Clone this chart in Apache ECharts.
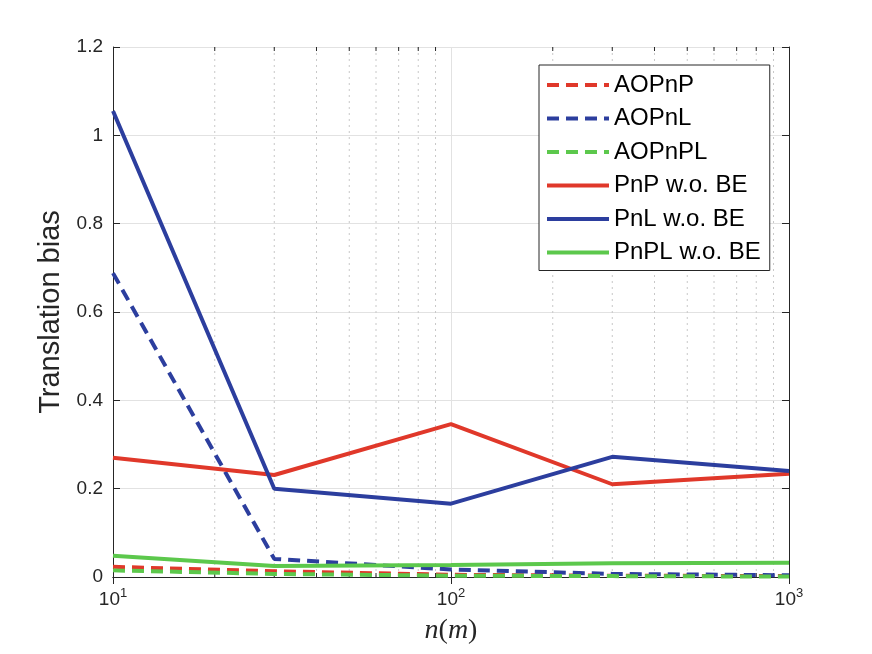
<!DOCTYPE html>
<html>
<head>
<meta charset="utf-8">
<script src="https://cdn.jsdelivr.net/npm/echarts@6/dist/echarts.min.js"></script>
<style>
html,body{margin:0;padding:0;background:#fff;}
#c{width:872px;height:654px;}
</style>
</head>
<body>
<div id="c"></div>
<script>
// ---- data ----
const nValues = [10, 30, 100, 300, 1000];
const aopnp   = [0.023, 0.013, 0.005, 0.003, 0.002];
const aopnl   = [0.688, 0.041, 0.017, 0.007, 0.004];
const aopnpl  = [0.015, 0.007, 0.003, 0.002, 0.001];
const pnpWoBE  = [0.270, 0.231, 0.346, 0.210, 0.234];
const pnlWoBE  = [1.055, 0.200, 0.166, 0.272, 0.240];
const pnplWoBE = [0.048, 0.025, 0.027, 0.031, 0.032];
const seriesNames = ['AOPnP', 'AOPnL', 'AOPnPL', 'PnP w.o. BE', 'PnL w.o. BE', 'PnPL w.o. BE'];
const minorX = [20,30,40,50,60,70,80,90,200,300,400,500,600,700,800,900];
const yTicks = [0, 0.2, 0.4, 0.6, 0.8, 1, 1.2];
const xRange = [10, 1000];

const RED = '#e0382a', BLUE = '#2c3e9e', GREEN = '#5cc84c';
const AX = '#262626';
const FONT = 'Liberation Sans, Arial, Helvetica, sans-serif';

function pairs(ys){ return nValues.map((x,i)=>[x, ys[i]]); }
function lineSeries(name, ys, color, dashed){
  return {
    name, type:'line', data:pairs(ys), symbol:'none', showSymbol:false,
    z: dashed ? 3 : 4,
    lineStyle:{color, width:4, type: dashed ? [12,7] : 'solid', cap:'butt'},
    itemStyle:{color},
    emphasis:{disabled:true}, animation:false
  };
}

const chart = echarts.init(document.getElementById('c'), null, {renderer:'canvas'});
const yMin = yTicks[0], yMax = yTicks[yTicks.length-1];

chart.setOption({
  animation:false,
  backgroundColor:'#fff',
  grid:{left:113, right:83, top:47, bottom:77, containLabel:false},
  legend:{
    data: seriesNames,
    orient:'vertical', left:539, top:65,
    backgroundColor:'#fff', borderColor:AX, borderWidth:1, borderRadius:0,
    padding:[8,9,6,6],
    itemWidth:62, itemHeight:24, itemGap:9.5,
    itemStyle:{opacity:0},
    lineStyle:{width:4},
    textStyle:{fontFamily:FONT, fontSize:24, color:'#000', lineHeight:24},
    selectedMode:false
  },
  xAxis:[{
    type:'log', logBase:10, min:xRange[0], max:xRange[1],
    axisLine:{show:true, lineStyle:{color:AX, width:1}},
    axisTick:{show:true, inside:true, length:7, lineStyle:{color:AX}},
    splitLine:{show:true, lineStyle:{color:'#e2e2e2', width:1}},
    minorTick:{show:false}, minorSplitLine:{show:false},
    axisLabel:{
      margin:10, color:AX,
      formatter:(v)=>'{b|10}{s|'+Math.round(Math.log10(v))+'}',
      rich:{
        b:{fontFamily:FONT, fontSize:19, color:AX},
        s:{fontFamily:FONT, fontSize:13, color:AX, padding:[0,0,13,0]}
      }
    },
    name:'{i|n}{r|(}{i|m}{r|)}', nameLocation:'middle', nameGap:40,
    nameTextStyle:{
      rich:{
        i:{fontFamily:'Liberation Serif, Times New Roman, serif', fontStyle:'italic', fontSize:28, color:AX},
        r:{fontFamily:'Liberation Serif, Times New Roman, serif', fontSize:28, color:AX}
      }
    }
  },{
    type:'log', logBase:10, min:xRange[0], max:xRange[1], position:'top',
    axisLine:{show:true, lineStyle:{color:AX, width:1}},
    axisTick:{show:true, inside:true, length:7, lineStyle:{color:AX}},
    axisLabel:{show:false}, splitLine:{show:false}
  }],
  yAxis:[{
    type:'value', min:yMin, max:yMax, interval:0.2,
    axisLine:{show:true, lineStyle:{color:AX, width:1}},
    axisTick:{show:true, inside:true, length:7, lineStyle:{color:AX}},
    splitLine:{show:true, lineStyle:{color:'#e2e2e2', width:1}},
    axisLabel:{margin:10, color:AX, fontFamily:FONT, fontSize:19,
      formatter:(v)=>String(+v.toFixed(1))},
    name:'Translation bias', nameLocation:'middle', nameGap:48,
    nameTextStyle:{fontFamily:FONT, fontSize:29, color:AX}
  },{
    type:'value', min:yMin, max:yMax, interval:0.2, position:'right',
    axisLine:{show:true, lineStyle:{color:AX, width:1}},
    axisTick:{show:true, inside:true, length:7, lineStyle:{color:AX}},
    axisLabel:{show:false}, splitLine:{show:false}
  }],
  series:[
    {
      type:'custom', name:'minor', silent:true, z:1,
      xAxisIndex:0, yAxisIndex:0,
      data: minorX.map(v=>[v]),
      encode:{x:0},
      renderItem:(params, api)=>{
        const v = api.value(0);
        const b = api.coord([v, yMin]);
        const t = api.coord([v, yMax]);
        return {type:'group', children:[
          {type:'line', shape:{x1:b[0],y1:b[1],x2:t[0],y2:t[1]},
           style:{stroke:'#c8c8c8', lineWidth:1, lineDash:[2,4]}},
          {type:'line', shape:{x1:b[0],y1:b[1],x2:b[0],y2:b[1]-4},
           style:{stroke:AX, lineWidth:1}},
          {type:'line', shape:{x1:t[0],y1:t[1],x2:t[0],y2:t[1]+4},
           style:{stroke:AX, lineWidth:1}}
        ]};
      }
    },
    lineSeries(seriesNames[0], aopnp, RED, true),
    lineSeries(seriesNames[1], aopnl, BLUE, true),
    lineSeries(seriesNames[2], aopnpl, GREEN, true),
    lineSeries(seriesNames[3], pnpWoBE, RED, false),
    lineSeries(seriesNames[4], pnlWoBE, BLUE, false),
    lineSeries(seriesNames[5], pnplWoBE, GREEN, false)
  ]
});
</script>
</body>
</html>
